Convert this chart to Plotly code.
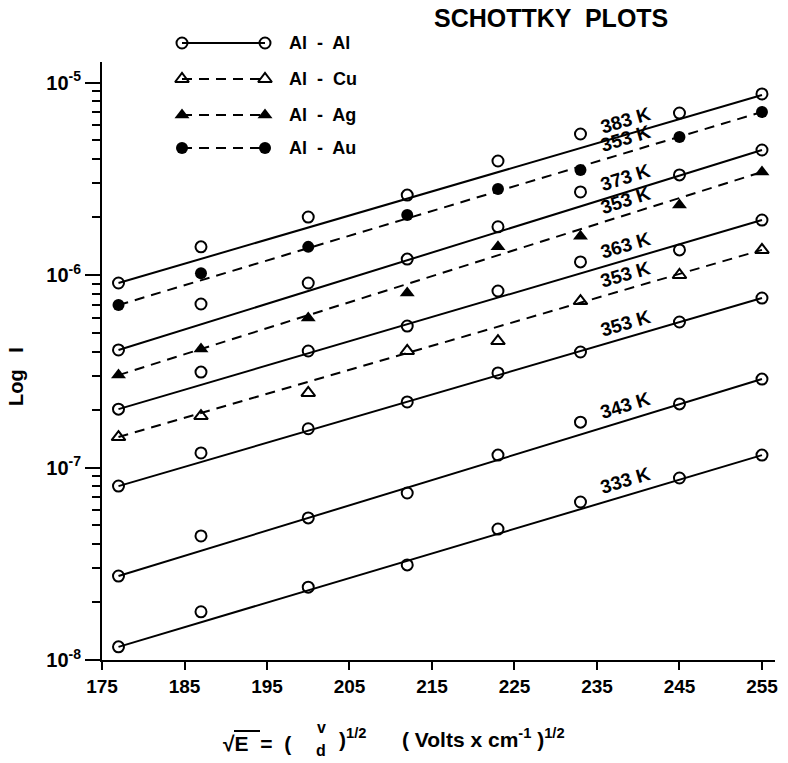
import math
import plotly.graph_objects as go

# ---------------- data ----------------
E = [177, 187, 200, 212, 223, 233, 245, 255]  # sqrt(E) (Volts x cm^-1)^1/2

temps = ["383 K", "353 K", "373 K", "353 K", "363 K", "353 K", "353 K", "343 K", "333 K"]
pairs = ["Al - Al", "Al - Au", "Al - Al", "Al - Ag", "Al - Al", "Al - Cu", "Al - Al", "Al - Al", "Al - Al"]

I_383_AlAl = [9.09e-7, 1.40e-6, 2.00e-6, 2.60e-6, 3.91e-6, 5.40e-6, 6.94e-6, 8.72e-6]
I_353_AlAu = [6.98e-7, 1.02e-6, 1.40e-6, 2.05e-6, 2.80e-6, 3.51e-6, 5.21e-6, 7.03e-6]
I_373_AlAl = [4.08e-7, 7.07e-7, 9.09e-7, 1.21e-6, 1.78e-6, 2.70e-6, 3.31e-6, 4.46e-6]
I_353_AlAg = [3.02e-7, 4.13e-7, 5.98e-7, 8.06e-7, 1.40e-6, 1.59e-6, 2.31e-6, 3.43e-6]
I_363_AlAl = [2.01e-7, 3.13e-7, 4.03e-7, 5.43e-7, 8.26e-7, 1.17e-6, 1.35e-6, 1.93e-6]
I_353_AlCu = [1.44e-7, 1.85e-7, 2.44e-7, 4.03e-7, 4.54e-7, 7.32e-7, 1.00e-6, 1.35e-6]
I_353_AlAl = [8.01e-8, 1.19e-7, 1.59e-7, 2.19e-7, 3.10e-7, 3.98e-7, 5.70e-7, 7.59e-7]
I_343_AlAl = [2.73e-8, 4.41e-8, 5.47e-8, 7.37e-8, 1.16e-7, 1.72e-7, 2.14e-7, 2.88e-7]
I_333_AlAl = [1.17e-8, 1.78e-8, 2.39e-8, 3.12e-8, 4.79e-8, 6.62e-8, 8.82e-8, 1.16e-7]

series_I = [I_383_AlAl, I_353_AlAu, I_373_AlAl, I_353_AlAg, I_363_AlAl,
            I_353_AlCu, I_353_AlAl, I_343_AlAl, I_333_AlAl]

# fitted straight lines: value at first and last field point
fit_lo = [9.09e-7, 6.98e-7, 4.08e-7, 3.02e-7, 2.01e-7, 1.44e-7, 8.0e-8, 2.73e-8, 1.17e-8]
fit_hi = [8.61e-6, 7.03e-6, 4.46e-6, 3.43e-6, 1.93e-6, 1.35e-6, 7.59e-7, 2.88e-7, 1.16e-7]

x_ticks = [175, 185, 195, 205, 215, 225, 235, 245, 255]
y_ticks = [1e-8, 1e-7, 1e-6, 1e-5]
y_ticktext = ["10<sup>-8</sup>", "10<sup>-7</sup>", "10<sup>-6</sup>", "10<sup>-5</sup>"]
legend_pairs = ["Al - Al", "Al - Cu", "Al - Ag", "Al - Au"]

# ---------------- styles ----------------
FONT = "Liberation Sans"
INK = "black"
W, H = 788, 763
PX_L, PX_R, PX_T, PX_B = 102, 775, 62, 660
X_RANGE = [175, 256.58]
Y_RANGE = [-8, -4.8935]

style = {
    "Al - Al": dict(symbol="circle-open", size=11, line=dict(width=2, color=INK), dash="solid"),
    "Al - Cu": dict(symbol="triangle-up-open", size=12, line=dict(width=2, color=INK), dash="10px,7px"),
    "Al - Ag": dict(symbol="triangle-up", size=13, line=dict(width=0, color=INK), dash="10px,7px"),
    "Al - Au": dict(symbol="circle", size=12, line=dict(width=0, color=INK), dash="10px,7px"),
}

fig = go.Figure()

px_per_x = (PX_R - PX_L) / (X_RANGE[1] - X_RANGE[0])
px_per_dec = (PX_B - PX_T) / (Y_RANGE[1] - Y_RANGE[0])

annotations = []
LABEL_X = 238.4
for name, pair, vals, lo, hi in zip(temps, pairs, series_I, fit_lo, fit_hi):
    st = style[pair]
    # fitted line
    fig.add_trace(go.Scatter(x=[E[0], E[-1]], y=[lo, hi], mode="lines",
                             line=dict(color=INK, width=2, dash=st["dash"]),
                             showlegend=False, hoverinfo="skip", xaxis="x", yaxis="y"))
    # measured points
    fig.add_trace(go.Scatter(x=E, y=vals, mode="markers",
                             marker=dict(symbol=st["symbol"], size=st["size"], color=INK,
                                         line=st["line"]),
                             showlegend=False, xaxis="x", yaxis="y", cliponaxis=False))
    # temperature label along the line
    llo, lhi = math.log10(lo), math.log10(hi)
    ylab = llo + (lhi - llo) * (LABEL_X - E[0]) / (E[-1] - E[0])
    ang = math.degrees(math.atan((lhi - llo) * px_per_dec / ((E[-1] - E[0]) * px_per_x)))
    annotations.append(dict(x=LABEL_X, y=ylab, xref="x", yref="y", text=name,
                            showarrow=False, textangle=-ang, yshift=15,
                            font=dict(family=FONT, size=19, color=INK, weight=700)))

# ---------------- hand-drawn legend (pixel overlay) ----------------
LEG_X0, LEG_X1, LEG_TX = 182, 265, 287
LEG_Y = [43, 79, 115, 148]
for pair, ly in zip(legend_pairs, LEG_Y):
    st = style[pair]
    fig.add_trace(go.Scatter(x=[LEG_X0, LEG_X1], y=[ly, ly], mode="lines+markers",
                             line=dict(color=INK, width=2, dash=st["dash"]),
                             marker=dict(symbol=st["symbol"], size=st["size"], color=INK,
                                         line=st["line"]),
                             showlegend=False, hoverinfo="skip", xaxis="x2", yaxis="y2"))
    annotations.append(dict(x=LEG_TX, y=ly, xref="x2", yref="y2", text=pair.replace(" - ", "  -  "),
                            xanchor="left", showarrow=False,
                            font=dict(family=FONT, size=18, color=INK, weight=700)))

# ---------------- titles ----------------
annotations += [
    dict(x=551, y=18, xref="x2", yref="y2", text="SCHOTTKY  PLOTS", showarrow=False,
         font=dict(family=FONT, size=25, color=INK, weight=700)),
    dict(x=16, y=377, xref="x2", yref="y2", text="Log   I", showarrow=False, textangle=-90,
         font=dict(family=FONT, size=20, color=INK, weight=700)),
    dict(x=221, y=743, xref="x2", yref="y2", text="√E  =  (", xanchor="left", showarrow=False,
         font=dict(family=FONT, size=21, color=INK, weight=700)),
    dict(x=321, y=727, xref="x2", yref="y2", text="v", showarrow=False,
         font=dict(family=FONT, size=16, color=INK, weight=700)),
    dict(x=321, y=750, xref="x2", yref="y2", text="d", showarrow=False,
         font=dict(family=FONT, size=16, color=INK, weight=700)),
    dict(x=337, y=738, xref="x2", yref="y2", text=")<sup>1/2</sup>", xanchor="left", showarrow=False,
         font=dict(family=FONT, size=21, color=INK, weight=700)),
    dict(x=400, y=738, xref="x2", yref="y2", text="( Volts x cm<sup>-1</sup> )<sup>1/2</sup>",
         xanchor="left", showarrow=False,
         font=dict(family=FONT, size=21, color=INK, weight=700)),
]

shapes = [dict(type="line", xref="x2", yref="y2", x0=234, x1=260, y0=731, y1=731,
               line=dict(color=INK, width=2))]

minor_vals = [m * d for d in [1e-8, 1e-7, 1e-6] for m in range(2, 10)]

fig.update_layout(
    width=W, height=H,
    margin=dict(l=0, r=0, t=0, b=0),
    paper_bgcolor="white", plot_bgcolor="rgba(0,0,0,0)",
    showlegend=False,
    xaxis=dict(domain=[PX_L / W, PX_R / W], range=X_RANGE, anchor="y",
               tickmode="array", tickvals=x_ticks, ticks="outside", ticklen=8, tickwidth=2,
               tickcolor=INK, showline=True, linewidth=2, linecolor=INK,
               showgrid=False, zeroline=False, automargin=False,
               tickfont=dict(family=FONT, size=19, color=INK, weight=700)),
    yaxis=dict(domain=[1 - PX_B / H, 1 - PX_T / H], type="log", range=Y_RANGE, anchor="x",
               tickmode="array", tickvals=y_ticks, ticktext=y_ticktext,
               ticks="outside", ticklen=15, tickwidth=2, tickcolor=INK,
               minor=dict(tickmode="array", tickvals=minor_vals, ticks="outside",
                          ticklen=8, tickwidth=2, tickcolor=INK, showgrid=False),
               showline=True, linewidth=2, linecolor=INK,
               showgrid=False, zeroline=False, automargin=False,
               tickfont=dict(family=FONT, size=20, color=INK, weight=700)),
    xaxis2=dict(domain=[0, 1], range=[0, W], anchor="y2", visible=False, fixedrange=True),
    yaxis2=dict(domain=[0, 1], range=[H, 0], anchor="x2", visible=False, fixedrange=True),
    annotations=annotations,
    shapes=shapes,
)

fig.write_html("out.html")
